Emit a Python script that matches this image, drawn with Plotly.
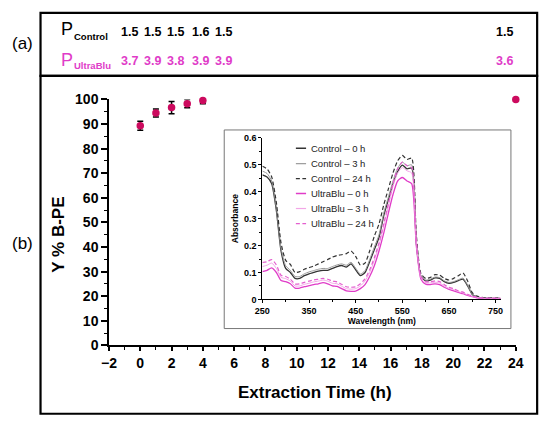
import plotly.graph_objects as go

W, H = 550, 428
def px(x): return x / W
def py(y): return 1 - y / H

# ---------------- data ----------------
time_h = [0, 1, 2, 3, 4, 24]
yield_pct = [89.3, 94.5, 96.7, 98.3, 99.6, 100.0]
yield_err = [1.8, 1.6, 2.5, 1.7, 1.3, 0.0]

p_control = ["1.5", "1.5", "1.5", "1.6", "1.5", "1.5"]
p_ultrablu = ["3.7", "3.9", "3.8", "3.9", "3.9", "3.6"]

wavelength = [250, 260, 270, 280, 290, 300, 310, 320, 330, 340, 350, 360, 370, 380, 390,
              400, 410, 420, 430, 440, 450, 460, 470, 480, 490, 500, 510, 520, 530, 540,
              550, 560, 570, 580, 590, 600, 610, 620, 630, 640, 650, 660, 670, 680, 690,
              700, 710, 720, 730, 740, 750, 760]

control_0h = [0.463, 0.455, 0.430, 0.330, 0.180, 0.115, 0.100, 0.078, 0.078, 0.088, 0.095,
              0.100, 0.105, 0.108, 0.108, 0.115, 0.122, 0.126, 0.120, 0.132, 0.110, 0.088,
              0.100, 0.140, 0.185, 0.230, 0.310, 0.370, 0.430, 0.475, 0.499, 0.485, 0.488,
              0.210, 0.085, 0.069, 0.072, 0.080, 0.078, 0.066, 0.060, 0.063, 0.070, 0.075,
              0.050, 0.018, 0.008, 0.005, 0.004, 0.004, 0.003, 0.003]
control_3h = [0.477, 0.468, 0.440, 0.340, 0.190, 0.125, 0.108, 0.085, 0.085, 0.095, 0.102,
              0.107, 0.112, 0.115, 0.115, 0.122, 0.128, 0.132, 0.127, 0.138, 0.116, 0.094,
              0.107, 0.148, 0.195, 0.240, 0.320, 0.380, 0.440, 0.488, 0.510, 0.497, 0.500,
              0.220, 0.088, 0.072, 0.075, 0.083, 0.081, 0.069, 0.063, 0.066, 0.073, 0.079,
              0.053, 0.019, 0.009, 0.006, 0.005, 0.004, 0.004, 0.004]
control_24h = [0.495, 0.485, 0.455, 0.360, 0.210, 0.145, 0.130, 0.100, 0.103, 0.112, 0.118,
               0.124, 0.132, 0.140, 0.148, 0.157, 0.163, 0.166, 0.170, 0.180, 0.160, 0.128,
               0.135, 0.180, 0.235, 0.280, 0.350, 0.410, 0.470, 0.515, 0.535, 0.520, 0.525,
               0.240, 0.095, 0.078, 0.082, 0.092, 0.090, 0.078, 0.072, 0.078, 0.088, 0.098,
               0.068, 0.025, 0.012, 0.008, 0.006, 0.006, 0.006, 0.006]
ultrablu_0h = [0.103, 0.108, 0.117, 0.100, 0.070, 0.066, 0.058, 0.042, 0.042, 0.047, 0.051,
               0.055, 0.058, 0.062, 0.058, 0.050, 0.048, 0.040, 0.032, 0.030, 0.031, 0.040,
               0.055, 0.085, 0.125, 0.180, 0.245, 0.320, 0.390, 0.440, 0.453, 0.440, 0.430,
               0.200, 0.075, 0.057, 0.055, 0.058, 0.055, 0.045, 0.037, 0.032, 0.026, 0.021,
               0.015, 0.010, 0.006, 0.004, 0.003, 0.003, 0.003, 0.003]
ultrablu_3h = [0.122, 0.127, 0.135, 0.115, 0.082, 0.077, 0.068, 0.050, 0.050, 0.056, 0.060,
               0.065, 0.068, 0.072, 0.068, 0.060, 0.058, 0.049, 0.040, 0.038, 0.040, 0.050,
               0.068, 0.100, 0.145, 0.200, 0.270, 0.345, 0.420, 0.470, 0.490, 0.478, 0.470,
               0.210, 0.080, 0.062, 0.061, 0.064, 0.061, 0.050, 0.041, 0.036, 0.029, 0.024,
               0.017, 0.011, 0.007, 0.005, 0.004, 0.004, 0.004, 0.004]
ultrablu_24h = [0.137, 0.140, 0.148, 0.128, 0.090, 0.085, 0.075, 0.057, 0.058, 0.063, 0.068,
                0.072, 0.075, 0.078, 0.075, 0.068, 0.065, 0.056, 0.047, 0.045, 0.047, 0.058,
                0.076, 0.110, 0.155, 0.210, 0.280, 0.355, 0.430, 0.485, 0.510, 0.497, 0.490,
                0.220, 0.085, 0.066, 0.065, 0.069, 0.066, 0.055, 0.045, 0.040, 0.032, 0.027,
                0.019, 0.012, 0.008, 0.006, 0.005, 0.005, 0.005, 0.005]

series_names = ["Control \u2013 0 h", "Control \u2013 3 h", "Control \u2013 24 h",
                "UltraBlu \u2013 0 h", "UltraBlu \u2013 3 h", "UltraBlu \u2013 24 h"]
series_values = [control_0h, control_3h, control_24h, ultrablu_0h, ultrablu_3h, ultrablu_24h]

# ---------------- styles ----------------
FONT = "Arial, Liberation Sans, Helvetica, sans-serif"
MAGENTA = "#e03cc8"
POINT = "#cc0a5e"
series_colors = ["#333333", "#9a9a9a", "#333333", "#e03cc8", "#f2a6e6", "#e45fcf"]
series_widths = [1.3, 1.0, 1.2, 1.3, 1.0, 1.2]
series_dash = ["solid", "solid", "4px,2.5px", "solid", "solid", "4px,2.5px"]

fig = go.Figure()

# main scatter
fig.add_trace(go.Scatter(
    x=time_h, y=yield_pct, mode="markers",
    marker=dict(size=7.5, color=POINT),
    error_y=dict(type="data", array=yield_err, color="black", thickness=1.5, width=3),
    cliponaxis=False, showlegend=False, xaxis="x", yaxis="y"))

# inset spectra
for name, vals, col, wd, ds in zip(series_names, series_values, series_colors,
                                   series_widths, series_dash):
    fig.add_trace(go.Scatter(
        x=wavelength, y=vals, mode="lines", name=name,
        line=dict(color=col, width=wd, dash=ds, shape="spline", smoothing=0.6),
        showlegend=False, xaxis="x2", yaxis="y2"))

shapes = []
annotations = []

def note(text, x, y, size, color="black", xa="center", ya="middle", angle=0):
    annotations.append(dict(text=text, x=px(x), y=py(y), xref="paper", yref="paper",
                            xanchor=xa, yanchor=ya, showarrow=False, textangle=angle,
                            font=dict(family=FONT, size=size, color=color)))

# outer panel boxes
shapes.append(dict(type="rect", xref="paper", yref="paper",
                   x0=px(33.5), x1=px(545), y0=py(70.5), y1=py(5),
                   line=dict(color="black", width=2.2)))
shapes.append(dict(type="rect", xref="paper", yref="paper",
                   x0=px(33.5), x1=px(545), y0=py(421.5), y1=py(70.5),
                   line=dict(color="black", width=2.2)))
# inset box
shapes.append(dict(type="rect", xref="paper", yref="paper", layer="below",
                   x0=px(222.7), x1=px(518), y0=py(333), y1=py(126.7),
                   fillcolor="white", line=dict(color="#777777", width=1)))

# panel labels
note("(a)", 15, 37, 17)
note("(b)", 15, 245, 17)

# table in panel (a)
col_x = [125, 149, 173, 198, 222, 511]
rows = [("Control", p_control, "black", 22, 29.5, 25),
        ("UltraBlu", p_ultrablu, MAGENTA, 54, 60, 55)]
for sub, vals, col, yp, ys, yv in rows:
    note("P", 53, yp, 18, col, xa="left")
    note("<b>%s</b>" % sub, 66, ys, 9.5, col, xa="left")
    for xc, v in zip(col_x, vals):
        note("<b>%s</b>" % v, xc, yv, 12.5, col)

# main axis titles
note("<b>Y % B-PE</b>", 52, 235, 17, angle=-90)
note("<b>Extraction Time (h)</b>", 316, 399, 17)

# inset legend
leg_rows = [145.7, 161.7, 177.3, 192.7, 208.3, 224]
for name, col, wd, ds, yr in zip(series_names, series_colors, series_widths,
                                 series_dash, leg_rows):
    shapes.append(dict(type="line", xref="paper", yref="paper",
                       x0=px(296.5), x1=px(307), y0=py(yr), y1=py(yr),
                       line=dict(color=col, width=wd + 0.2, dash=ds)))
    note(name, 310, yr, 9.5, "#222222", xa="left")

axis_common = dict(showline=True, linecolor="black", ticks="outside", showgrid=False,
                   zeroline=False, tickcolor="black")

fig.update_layout(
    width=W, height=H, margin=dict(l=0, r=0, t=0, b=0),
    paper_bgcolor="white", plot_bgcolor="rgba(0,0,0,0)",
    font=dict(family=FONT, color="black"),
    shapes=shapes, annotations=annotations,
    xaxis=dict(domain=[px(104), px(523)], range=[-2, 24], dtick=2, tick0=0,
               linewidth=1.5, tickwidth=1.5, ticklen=4,
               minor=dict(dtick=1, ticks="outside", ticklen=3, tickwidth=1.2, tickcolor="black"),
               tickfont=dict(family=FONT, size=14, weight="bold"),
               anchor="y", **axis_common),
    yaxis=dict(domain=[py(350.5), py(95)], range=[0, 100], dtick=10,
               linewidth=1.5, tickwidth=1.5, ticklen=6,
               minor=dict(dtick=5, ticks="outside", ticklen=3, tickwidth=1.2, tickcolor="black"),
               tickfont=dict(family=FONT, size=14, weight="bold"),
               anchor="x", **axis_common),
    xaxis2=dict(domain=[px(262), px(508)], range=[250, 762], dtick=100, tick0=250,
                linewidth=1, tickwidth=1, ticklen=3,
                minor=dict(dtick=50, ticks="outside", ticklen=2, tickwidth=1, tickcolor="black"),
                tickfont=dict(family=FONT, size=9, weight="bold"),
                title=dict(text="<b>Wavelength (nm)</b>", standoff=2,
                           font=dict(family=FONT, size=8.5)),
                anchor="y2", **axis_common),
    yaxis2=dict(domain=[py(302.7), py(135)], range=[0, 0.6], dtick=0.1,
                linewidth=1, tickwidth=1, ticklen=3,
                minor=dict(dtick=0.05, ticks="outside", ticklen=2, tickwidth=1, tickcolor="black"),
                tickfont=dict(family=FONT, size=9, weight="bold"),
                title=dict(text="<b>Absorbance</b>", standoff=4,
                           font=dict(family=FONT, size=8.5)),
                anchor="x2", **axis_common),
)

fig.write_html("out.html", config={"displayModeBar": False},
               post_script="document.body.style.margin='0';document.body.style.overflow='hidden';")
